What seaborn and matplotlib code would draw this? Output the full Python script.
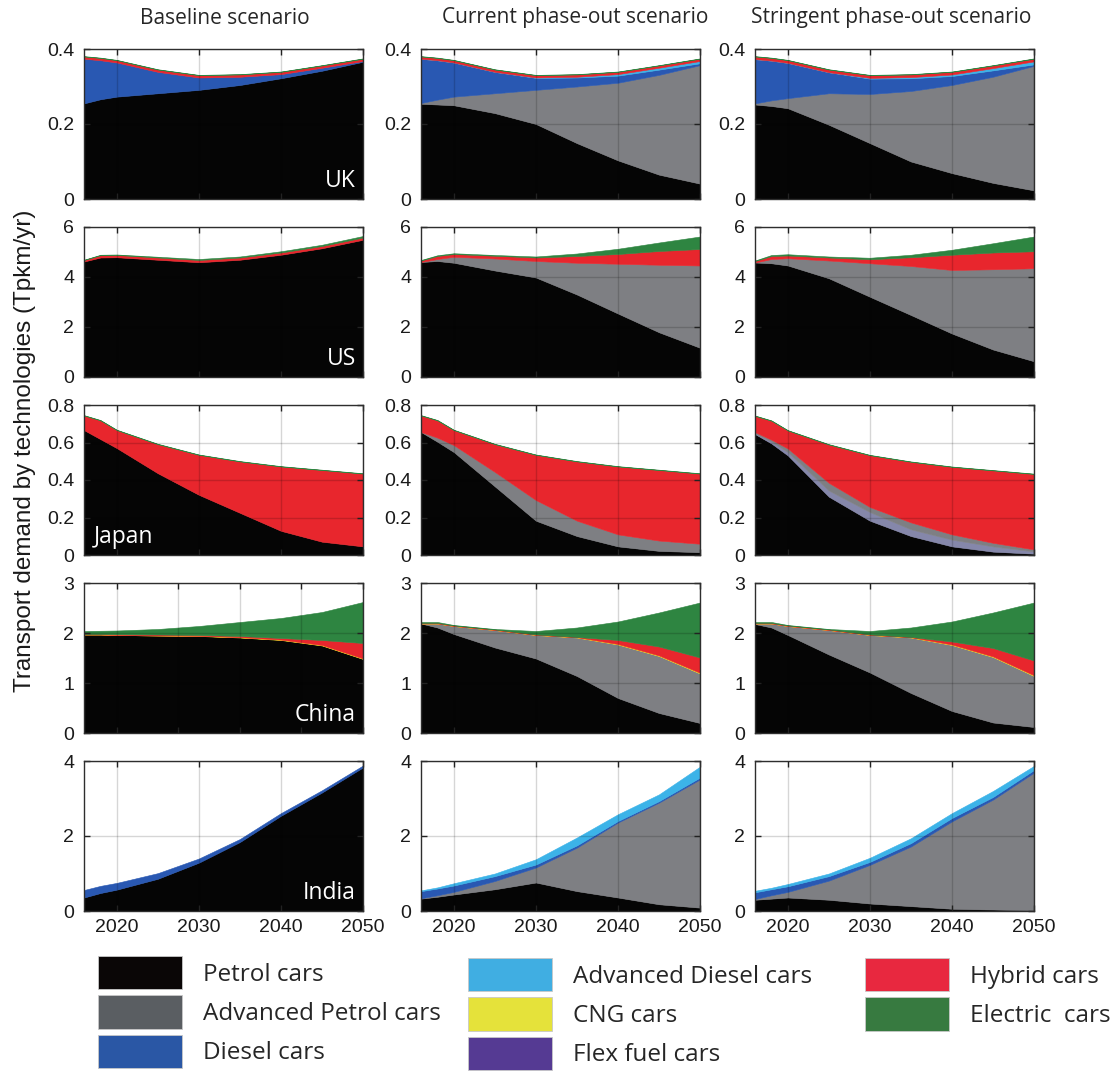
import numpy as np
import pandas as pd
import matplotlib
matplotlib.use("Agg")
import matplotlib.pyplot as plt
from matplotlib import font_manager as fm
from matplotlib.patches import Patch
import seaborn as sns

# ---------------- data (Tpkm/yr) ----------------
years = [2016, 2018, 2020, 2025, 2030, 2035, 2040, 2045, 2050]
scenarios = ["Baseline scenario", "Current phase-out scenario", "Stringent phase-out scenario"]
countries = ["UK", "US", "Japan", "China", "India"]
technologies = ["Petrol cars", "Advanced Petrol cars", "Diesel cars", "Advanced Diesel cars",
                "CNG cars", "Flex fuel cars", "Hybrid cars", "Electric  cars"]
stack_order = ["Petrol cars", "Flex fuel cars", "Advanced Petrol cars", "Diesel cars",
               "Advanced Diesel cars", "CNG cars", "Hybrid cars", "Electric  cars"]

uk_baseline = {
    "Petrol cars": [0.255, 0.266, 0.273, 0.282, 0.291, 0.304, 0.322, 0.342, 0.366],
    "Diesel cars": [0.119, 0.104, 0.091, 0.057, 0.033, 0.022, 0.011, 0.008, 0.002],
    "Hybrid cars": [0.006, 0.006, 0.006, 0.006, 0.006, 0.006, 0.006, 0.006, 0.006],
    "Electric  cars": [0.001, 0.001, 0.001, 0.001, 0.001, 0.001, 0.001, 0.001, 0.001],
}
uk_current = {
    "Petrol cars": [0.254, 0.252, 0.250, 0.229, 0.200, 0.149, 0.103, 0.065, 0.041],
    "Advanced Petrol cars": [0.002, 0.013, 0.023, 0.053, 0.091, 0.151, 0.207, 0.266, 0.316],
    "Diesel cars": [0.118, 0.105, 0.091, 0.057, 0.032, 0.024, 0.019, 0.014, 0.005],
    "Advanced Diesel cars": [0.0, 0.0, 0.0, 0.0, 0.001, 0.002, 0.004, 0.005, 0.006],
    "Hybrid cars": [0.006, 0.006, 0.006, 0.006, 0.006, 0.006, 0.006, 0.006, 0.006],
    "Electric  cars": [0.001, 0.001, 0.001, 0.001, 0.001, 0.001, 0.001, 0.001, 0.001],
}
uk_stringent = {
    "Petrol cars": [0.252, 0.248, 0.242, 0.198, 0.149, 0.100, 0.069, 0.043, 0.023],
    "Advanced Petrol cars": [0.003, 0.015, 0.027, 0.084, 0.131, 0.188, 0.235, 0.283, 0.332],
    "Diesel cars": [0.118, 0.106, 0.094, 0.056, 0.041, 0.034, 0.024, 0.017, 0.004],
    "Advanced Diesel cars": [0.0, 0.0, 0.0, 0.0, 0.002, 0.003, 0.004, 0.006, 0.008],
    "Hybrid cars": [0.007, 0.007, 0.007, 0.007, 0.007, 0.007, 0.007, 0.007, 0.007],
    "Electric  cars": [0.001, 0.001, 0.001, 0.001, 0.001, 0.001, 0.001, 0.001, 0.001],
}

us_baseline = {
    "Petrol cars": [4.62, 4.78, 4.79, 4.69, 4.59, 4.69, 4.89, 5.15, 5.49],
    "Hybrid cars": [0.06, 0.09, 0.09, 0.09, 0.09, 0.09, 0.09, 0.09, 0.09],
    "Electric  cars": [0.01, 0.02, 0.02, 0.03, 0.04, 0.04, 0.05, 0.05, 0.06],
}
us_current = {
    "Petrol cars": [4.60, 4.64, 4.57, 4.26, 3.98, 3.30, 2.54, 1.79, 1.17],
    "Advanced Petrol cars": [0.00, 0.08, 0.24, 0.48, 0.66, 1.27, 1.99, 2.70, 3.29],
    "Hybrid cars": [0.06, 0.12, 0.11, 0.11, 0.14, 0.27, 0.39, 0.55, 0.66],
    "Electric  cars": [0.02, 0.03, 0.03, 0.03, 0.04, 0.10, 0.21, 0.34, 0.50],
}
us_stringent = {
    "Petrol cars": [4.58, 4.55, 4.46, 3.95, 3.21, 2.48, 1.74, 1.10, 0.63],
    "Advanced Petrol cars": [0.00, 0.17, 0.29, 0.71, 1.34, 1.96, 2.54, 3.21, 3.72],
    "Hybrid cars": [0.06, 0.12, 0.11, 0.12, 0.16, 0.35, 0.61, 0.67, 0.68],
    "Electric  cars": [0.02, 0.04, 0.05, 0.04, 0.06, 0.10, 0.20, 0.37, 0.59],
}

japan_baseline = {
    "Petrol cars": [0.666, 0.618, 0.570, 0.436, 0.321, 0.225, 0.129, 0.071, 0.046],
    "Hybrid cars": [0.078, 0.100, 0.096, 0.155, 0.213, 0.274, 0.343, 0.382, 0.388],
    "Electric  cars": [0.002, 0.002, 0.002, 0.002, 0.002, 0.002, 0.002, 0.002, 0.002],
}
japan_current = {
    "Petrol cars": [0.656, 0.604, 0.549, 0.366, 0.183, 0.101, 0.046, 0.022, 0.015],
    "Advanced Petrol cars": [0.000, 0.022, 0.037, 0.077, 0.110, 0.082, 0.064, 0.055, 0.045],
    "Hybrid cars": [0.088, 0.092, 0.080, 0.148, 0.241, 0.316, 0.362, 0.376, 0.374],
    "Electric  cars": [0.002, 0.002, 0.002, 0.002, 0.002, 0.002, 0.002, 0.002, 0.002],
}
japan_stringent = {
    "Petrol cars": [0.645, 0.595, 0.531, 0.311, 0.183, 0.101, 0.046, 0.018, 0.007],
    "Flex fuel cars": [0.003, 0.010, 0.018, 0.033, 0.046, 0.036, 0.036, 0.028, 0.012],
    "Advanced Petrol cars": [0.007, 0.010, 0.019, 0.041, 0.027, 0.037, 0.028, 0.019, 0.011],
    "Hybrid cars": [0.087, 0.101, 0.096, 0.204, 0.276, 0.323, 0.360, 0.386, 0.402],
    "Electric  cars": [0.002, 0.002, 0.002, 0.002, 0.002, 0.002, 0.002, 0.002, 0.002],
}

china_baseline = {
    "Petrol cars": [1.97, 1.97, 1.96, 1.95, 1.94, 1.91, 1.86, 1.75, 1.48],
    "CNG cars": [0.0, 0.0, 0.0, 0.0, 0.004, 0.006, 0.008, 0.010, 0.012],
    "Hybrid cars": [0.010, 0.010, 0.015, 0.020, 0.016, 0.024, 0.032, 0.100, 0.308],
    "Electric  cars": [0.06, 0.065, 0.075, 0.11, 0.18, 0.28, 0.40, 0.56, 0.82],
}
china_current = {
    "Petrol cars": [2.19, 2.11, 1.98, 1.71, 1.49, 1.14, 0.70, 0.40, 0.20],
    "Advanced Petrol cars": [0.00, 0.08, 0.16, 0.35, 0.47, 0.77, 1.07, 1.14, 0.99],
    "CNG cars": [0.0, 0.0, 0.0, 0.0, 0.003, 0.006, 0.010, 0.012, 0.015],
    "Hybrid cars": [0.010, 0.010, 0.010, 0.010, 0.007, 0.004, 0.080, 0.178, 0.305],
    "Electric  cars": [0.02, 0.02, 0.01, 0.01, 0.07, 0.19, 0.37, 0.68, 1.10],
}
china_stringent = {
    "Petrol cars": [2.18, 2.11, 1.96, 1.57, 1.21, 0.80, 0.44, 0.21, 0.12],
    "Advanced Petrol cars": [0.01, 0.08, 0.18, 0.49, 0.75, 1.11, 1.32, 1.31, 1.02],
    "CNG cars": [0.0, 0.0, 0.0, 0.0, 0.003, 0.006, 0.010, 0.012, 0.015],
    "Hybrid cars": [0.010, 0.010, 0.010, 0.010, 0.007, 0.004, 0.060, 0.168, 0.295],
    "Electric  cars": [0.02, 0.02, 0.01, 0.01, 0.07, 0.19, 0.40, 0.71, 1.16],
}

india_baseline = {
    "Petrol cars": [0.36, 0.48, 0.57, 0.86, 1.29, 1.84, 2.54, 3.16, 3.83],
    "Diesel cars": [0.20, 0.19, 0.18, 0.15, 0.11, 0.08, 0.07, 0.06, 0.05],
}
india_current = {
    "Petrol cars": [0.33, 0.38, 0.44, 0.58, 0.76, 0.53, 0.36, 0.18, 0.09],
    "Advanced Petrol cars": [0.01, 0.04, 0.07, 0.22, 0.40, 1.16, 2.00, 2.71, 3.42],
    "Diesel cars": [0.19, 0.18, 0.17, 0.13, 0.08, 0.06, 0.04, 0.04, 0.05],
    "Advanced Diesel cars": [0.02, 0.03, 0.06, 0.07, 0.14, 0.21, 0.18, 0.18, 0.29],
}
india_stringent = {
    "Petrol cars": [0.30, 0.33, 0.36, 0.30, 0.20, 0.13, 0.06, 0.04, 0.02],
    "Advanced Petrol cars": [0.02, 0.09, 0.15, 0.51, 1.03, 1.59, 2.33, 2.93, 3.67],
    "Diesel cars": [0.18, 0.16, 0.15, 0.12, 0.08, 0.09, 0.09, 0.07, 0.07],
    "Advanced Diesel cars": [0.04, 0.04, 0.06, 0.07, 0.11, 0.13, 0.13, 0.16, 0.11],
}

panels = {
    "UK": [uk_baseline, uk_current, uk_stringent],
    "US": [us_baseline, us_current, us_stringent],
    "Japan": [japan_baseline, japan_current, japan_stringent],
    "China": [china_baseline, china_current, china_stringent],
    "India": [india_baseline, india_current, india_stringent],
}

y_max = {"UK": 0.4, "US": 6, "Japan": 0.8, "China": 3, "India": 4}
y_ticks = {"UK": [0, 0.2, 0.4], "US": [0, 2, 4, 6], "Japan": [0, 0.2, 0.4, 0.6, 0.8],
           "China": [0, 1, 2, 3], "India": [0, 2, 4]}
x_ticks = [2020, 2030, 2040, 2050]
china_baseline_xticks = [2020, 2027.5, 2035, 2042.5, 2050]

# ---------------- styling ----------------
plot_colors = {
    "Petrol cars": "#050505",
    "Advanced Petrol cars": "#7e7f83",
    "Diesel cars": "#2958b2",
    "Advanced Diesel cars": "#3cb3e8",
    "CNG cars": "#f0dc22",
    "Flex fuel cars": "#8587aa",
    "Hybrid cars": "#e8262d",
    "Electric  cars": "#2e8541",
}
legend_colors = {
    "Petrol cars": "#0a0606",
    "Advanced Petrol cars": "#5a5e62",
    "Diesel cars": "#2a57a5",
    "Advanced Diesel cars": "#40aee2",
    "CNG cars": "#e5e23a",
    "Flex fuel cars": "#553a93",
    "Hybrid cars": "#e8283f",
    "Electric  cars": "#377a40",
}

sns.set_theme(style="whitegrid")

installed = {f.name for f in fm.fontManager.ttflist}
def pick(cands, default="DejaVu Sans"):
    for n in cands:
        if n in installed:
            return n
    return default

helv = pick(["Liberation Sans", "Arimo", "Arial", "Helvetica", "Nimbus Sans", "Roboto"])
myr = pick(["Open Sans", "Lato", "Noto Sans"])
plt.rcParams["font.family"] = [helv, "DejaVu Sans"]
myriad = [myr, "DejaVu Sans"]

W, H = 1117, 1088
fig = plt.figure(figsize=(W / 100, H / 100), dpi=100)
fig.patch.set_facecolor("white")

col_left_px = [84, 421, 755]
row_bottom_px = [199, 377, 555, 733, 911]
ax_w, ax_h = 279 / W, 150 / H

for r, country in enumerate(countries):
    for c in range(3):
        ax = fig.add_axes([col_left_px[c] / W, 1 - row_bottom_px[r] / H, ax_w, ax_h])
        data = panels[country][c]
        layers = [t for t in stack_order if t in data]
        df = pd.DataFrame({t: data[t] for t in layers}, index=years)
        ax.stackplot(df.index, *[df[t].values for t in layers],
                     colors=[plot_colors[t] for t in layers],
                     edgecolor="face", linewidth=0.4)
        ax.set_facecolor("white")
        ax.set_xlim(2016, 2050)
        ax.set_ylim(0, y_max[country])
        ax.set_yticks(y_ticks[country])
        ax.set_yticklabels([f"{v:g}" for v in y_ticks[country]])
        xt = china_baseline_xticks if (country == "China" and c == 0) else x_ticks
        ax.set_xticks(xt)
        if r == len(countries) - 1:
            ax.set_xticklabels([str(v) for v in xt])
        else:
            ax.set_xticklabels([])
        ax.grid(True, color="black", alpha=0.16, linewidth=1.0)
        ax.set_axisbelow(False)
        for sp in ax.spines.values():
            sp.set_color("#2e2e2e")
            sp.set_linewidth(1.0)
            sp.set_zorder(5)
        ax.tick_params(axis="both", direction="in", length=4, width=1, color="#222222",
                       top=True, right=True, bottom=True, left=True,
                       labelsize=14, labelcolor="#1a1a1a")
        ax.tick_params(axis="y", pad=7)
        ax.tick_params(axis="x", pad=6)
        if c == 0:
            if country == "Japan":
                ax.text(0.035, 0.04, country, transform=ax.transAxes, ha="left", va="bottom",
                        color="white", fontsize=16.5, family=myriad, zorder=6)
            else:
                ax.text(0.975, 0.04, country, transform=ax.transAxes, ha="right", va="bottom",
                        color="white", fontsize=16.5, family=myriad, zorder=6)

# column titles
title_x_px = [225, 575, 891]
for x, t in zip(title_x_px, scenarios):
    fig.text(x / W, 1 - 18 / H, t, ha="center", va="center", fontsize=15, family=myriad)

# y label
fig.text(25 / W, 1 - 451 / H, "Transport demand by technologies (Tpkm/yr)", rotation=90,
         ha="center", va="center", fontsize=17.5, color="#1a1a1a")

# legend in three columns
legend_cols = [
    ["Petrol cars", "Advanced Petrol cars", "Diesel cars"],
    ["Advanced Diesel cars", "CNG cars", "Flex fuel cars"],
    ["Hybrid cars", "Electric  cars"],
]
legend_anchor_px = [(98, 956), (468, 958), (865, 958)]
fs = 17.5
fs_px = fs * 100 / 72
for cols, (ax_px, ay_px) in zip(legend_cols, legend_anchor_px):
    handles = [Patch(facecolor=legend_colors[t], edgecolor="#c8c8c8", linewidth=0.6, label=t)
               for t in cols]
    fig.legend(handles=handles, loc="upper left", bbox_to_anchor=(ax_px / W, 1 - ay_px / H),
               frameon=False, prop={"family": myriad, "size": fs},
               handlelength=84 / fs_px, handleheight=35 / fs_px + 0.3, handletextpad=21 / fs_px,
               labelspacing=0.24, borderpad=0, borderaxespad=0)

fig.savefig("out.png", dpi=100, facecolor="white")
